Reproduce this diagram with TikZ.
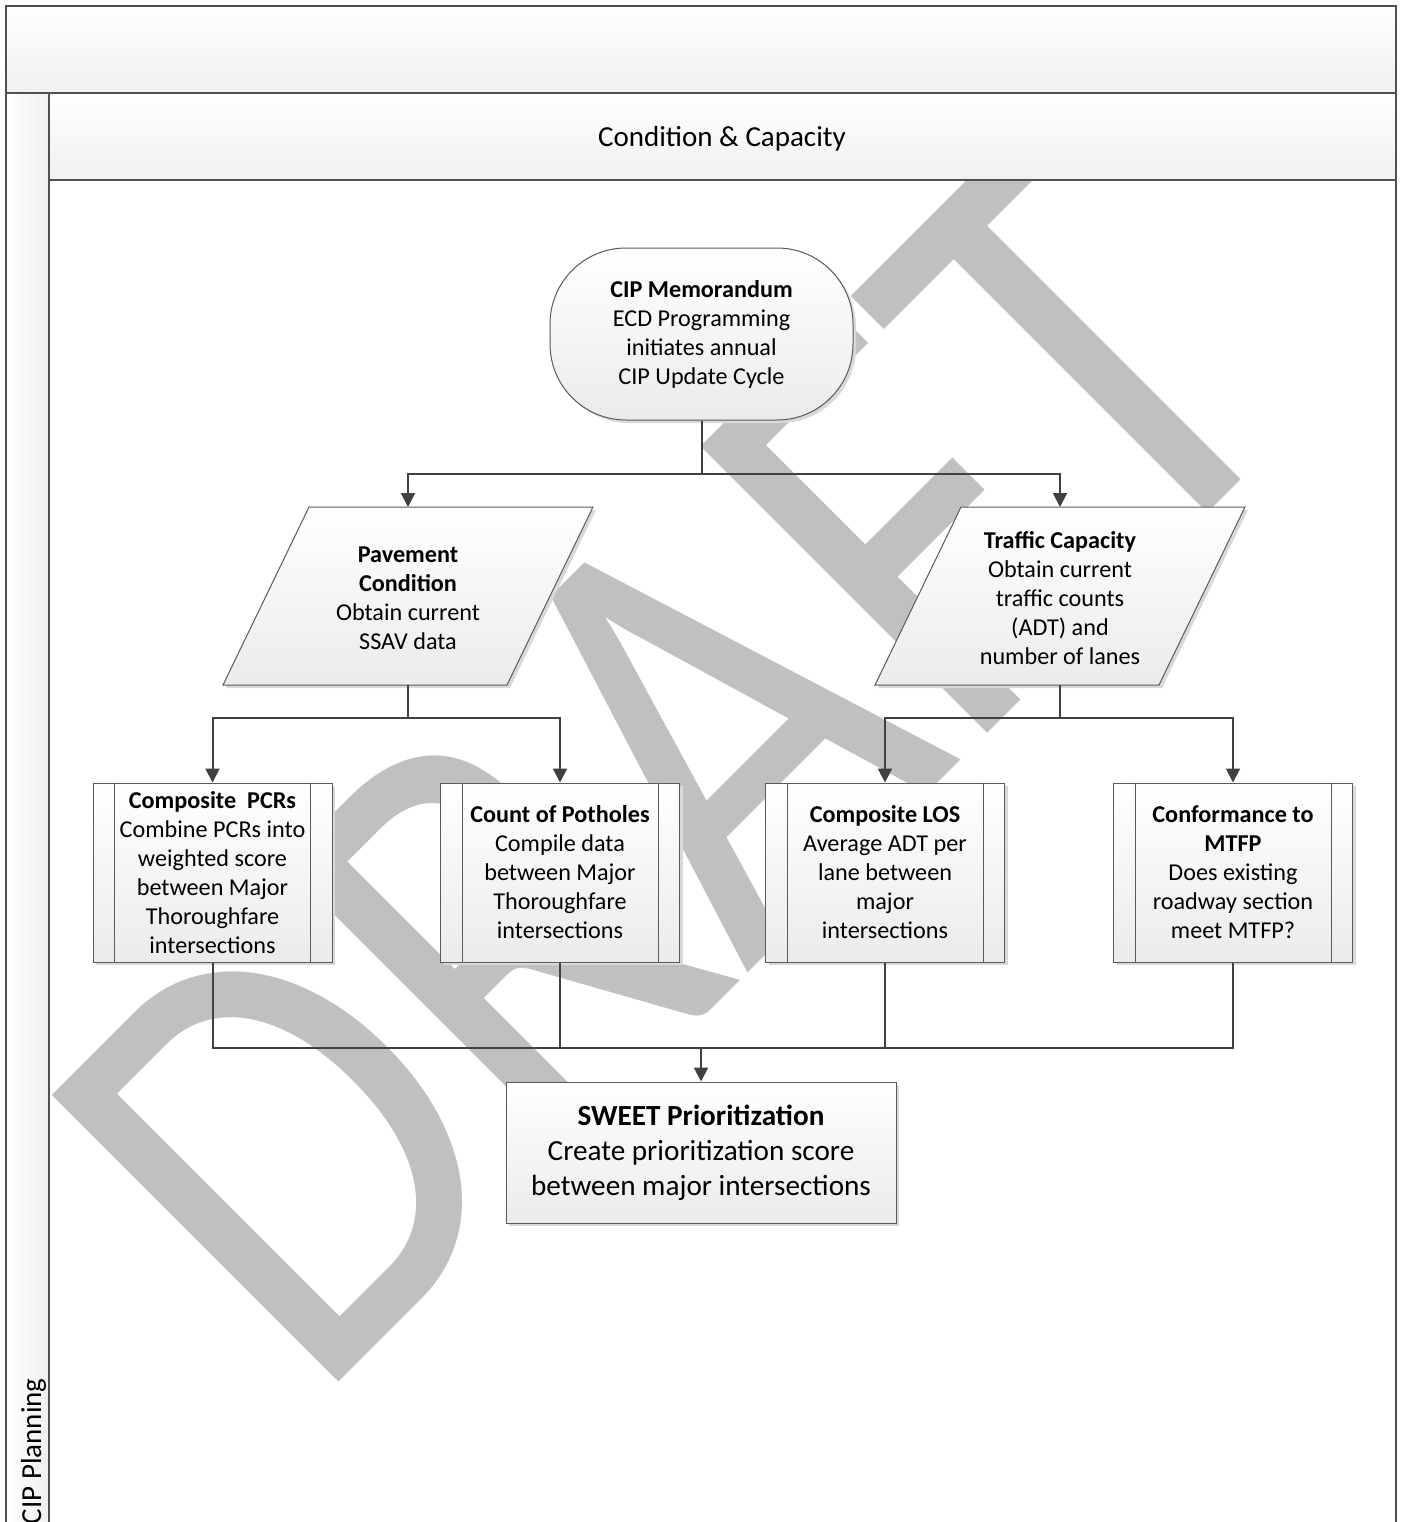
\documentclass[tikz,border=0pt]{standalone}
\usepackage{fontspec}
\setmainfont{Carlito}
\usetikzlibrary{arrows.meta,shadows}
\definecolor{linec}{HTML}{404040}
\definecolor{lanec}{HTML}{505050}
\definecolor{boxline}{HTML}{5A5A5A}
\definecolor{shadec}{HTML}{EBEBEB}
\definecolor{hdrc}{HTML}{F0F0F0}
\definecolor{wmark}{HTML}{C0C0C0}
\definecolor{shadowc}{HTML}{D9D9D9}
\begin{document}
\begin{tikzpicture}[x=0.5pt,y=-0.5pt,
  conn/.style={draw=linec, line width=1pt},
  arr/.style={conn, -{Triangle[width=7pt,length=7pt]}},
  lane/.style={draw=lanec, line width=1pt},
  shapebox/.style={draw=boxline, line width=0.5pt, top color=white, bottom color=shadec,
    general shadow={fill=shadowc, shadow xshift=1.5pt, shadow yshift=-1.5pt}},
  txt/.style={font=\fontsize{12.1}{14.5}\selectfont, align=center, inner sep=0pt},
  subbox/.style={shapebox, txt, minimum width=119.5pt, minimum height=89.5pt},
  holder/.style={inner sep=0pt, outer sep=0pt, minimum width=142pt, minimum height=89pt},
  inner/.style={draw=boxline, line width=0.5pt}
]
\useasboundingbox (0,0) rectangle (1403,1522);
\clip (0,0) rectangle (1403,1522);
\fill[white] (0,0) rectangle (1403,1522);

% watermark
\begin{scope}[shift={(342,1379)}, rotate=45, xscale=0.835]
\node[transform shape, anchor=base west, inner sep=0pt, outer sep=0pt, text=wmark,
  font=\fontsize{316}{316}\selectfont] (wm) at (-47.5,0) {DRAFT};
\end{scope}

% pool and lane
\path[top color=white, bottom color=hdrc] (6,6) rectangle (1396,93);
\path[left color=white, right color=hdrc] (6,93) rectangle (49,1530);
\path[top color=white, bottom color=hdrc] (49,93) rectangle (1396,180);
\draw[lane] (6,1530) -- (6,6) -- (1396,6) -- (1396,1530);
\draw[lane] (6,93) -- (1396,93);
\draw[lane] (49,180) -- (1396,180);
\draw[lane] (49,93) -- (49,1530);
\node[font=\fontsize{14.5}{17}\selectfont, inner sep=0pt] (lanehdr) at (722,138.5) {Condition \& Capacity};
\node[font=\fontsize{14.5}{17}\selectfont, inner sep=0pt, rotate=90, anchor=base east] (lanetitle) at (41,1378) {CIP Planning};

% start
\node[shapebox, txt, rounded corners=38pt, minimum width=151.5pt, minimum height=86pt] (memo) at (701.5,334)
  {\textbf{CIP Memorandum}\\ECD Programming\\initiates annual\\CIP Update Cycle};

% parallelograms
\node[holder] (pave) at (408,596) {};
\path[shapebox] ([xshift=21.5pt]pave.north west) -- ([xshift=21.5pt]pave.north east)
  -- ([xshift=-21.5pt]pave.south east) -- ([xshift=-21.5pt]pave.south west) -- cycle;
\node[txt] (pavet) at ([yshift=-1pt]pave.center) {\textbf{Pavement}\\\textbf{Condition}\\Obtain current\\SSAV data};

\node[holder] (traf) at (1060,596) {};
\path[shapebox] ([xshift=21.5pt]traf.north west) -- ([xshift=21.5pt]traf.north east)
  -- ([xshift=-21.5pt]traf.south east) -- ([xshift=-21.5pt]traf.south west) -- cycle;
\node[txt] (traft) at ([yshift=-1pt]traf.center) {\textbf{Traffic Capacity}\\Obtain current\\traffic counts\\(ADT) and\\number of lanes};

% sub-processes
\node[subbox] (b1) at (212.5,872.5) {\textbf{Composite~~PCRs}\\Combine PCRs into\\weighted score\\between Major\\Thoroughfare\\intersections};
\node[subbox] (b2) at (560,872.5) {\textbf{Count of Potholes}\\Compile data\\between Major\\Thoroughfare\\intersections};
\node[subbox] (b3) at (885,872.5) {\textbf{Composite LOS}\\Average ADT per\\lane between\\major\\intersections};
\node[subbox] (b4) at (1233,872.5) {\textbf{Conformance to}\\\textbf{MTFP}\\Does existing\\roadway section\\meet MTFP?};
\foreach \b in {b1,b2,b3,b4}{
  \draw[inner] ([xshift=11pt]\b.north west) -- ([xshift=11pt]\b.south west);
  \draw[inner] ([xshift=-11pt]\b.north east) -- ([xshift=-11pt]\b.south east);
}

% end
\node[shapebox, font=\fontsize{14.6}{17.5}\selectfont, align=center, inner sep=0pt,
  minimum width=195pt, minimum height=70.5pt] (sweet) at (701,1152.5)
  {\textbf{SWEET Prioritization}\\Create prioritization score\\between major intersections};

% connectors
\coordinate (j1) at (701.5,474);
\coordinate (j2) at (408,718);
\coordinate (j3) at (1060,718);
\coordinate (j4) at (701,1048);
\draw[conn] (memo.south) -- (j1);
\draw[arr] (j1) -| (pave.north);
\draw[arr] (j1) -| (traf.north);
\draw[conn] (pave.south) -- (j2);
\draw[arr] (j2) -| (b1.north);
\draw[arr] (j2) -| (b2.north);
\draw[conn] (traf.south) -- (j3);
\draw[arr] (j3) -| (b3.north);
\draw[arr] (j3) -| (b4.north);
\draw[conn] (b1.south) |- (j4);
\draw[conn] (b2.south) |- (j4);
\draw[conn] (b3.south) |- (j4);
\draw[conn] (b4.south) |- (j4);
\draw[arr] (j4) -- (sweet.north);
\end{tikzpicture}
\end{document}
